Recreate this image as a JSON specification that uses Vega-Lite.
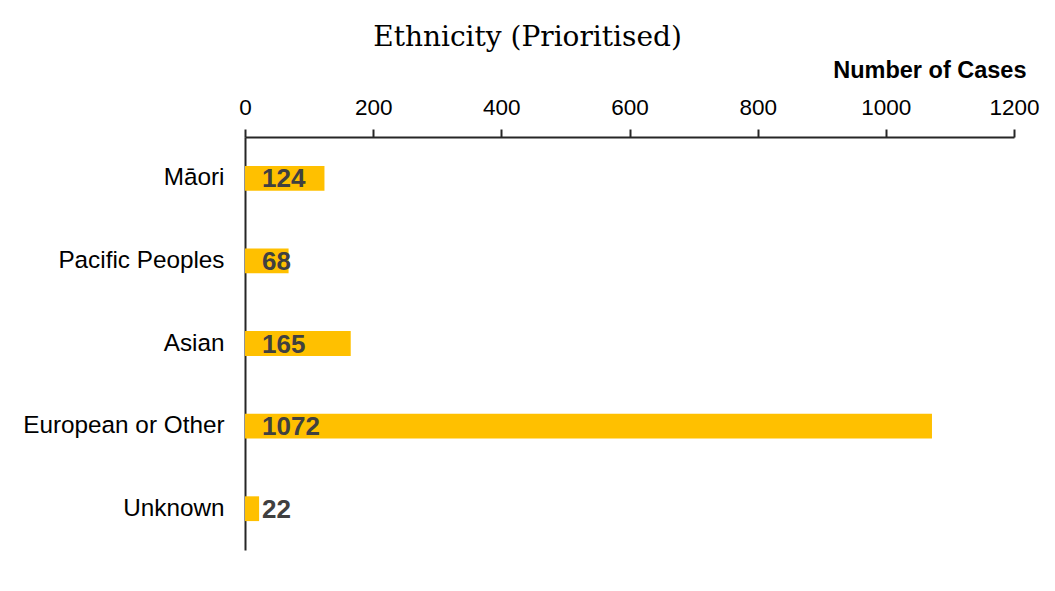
{
  "$schema": "https://vega.github.io/schema/vega-lite/v6.json",
  "width": 769,
  "height": 413,
  "autosize": {"type": "none"},
  "padding": {"left": 245, "top": 137, "right": 41, "bottom": 41},
  "background": "white",
  "title": {
    "text": "Ethnicity (Prioritised)",
    "font": "DejaVu Serif",
    "fontSize": 28,
    "fontWeight": "normal",
    "color": "#000000",
    "anchor": "middle",
    "dx": -102,
    "offset": 6
  },
  "config": {
    "view": {"stroke": null},
    "font": "Liberation Sans"
  },
  "data": {
    "values": [
      {"ethnicity": "Māori", "cases": 124},
      {"ethnicity": "Pacific Peoples", "cases": 68},
      {"ethnicity": "Asian", "cases": 165},
      {"ethnicity": "European or Other", "cases": 1072},
      {"ethnicity": "Unknown", "cases": 22}
    ]
  },
  "encoding": {
    "y": {
      "field": "ethnicity",
      "type": "nominal",
      "sort": null,
      "scale": {"paddingInner": 0.7, "paddingOuter": 0.35},
      "axis": {
        "title": null,
        "ticks": false,
        "labelPadding": 21,
        "labelFont": "Liberation Sans",
        "labelFontSize": 24.3,
        "labelColor": "#000000",
        "labelLimit": 300,
        "domainColor": "#262626",
        "domainWidth": 2
      }
    }
  },
  "layer": [
    {
      "mark": {"type": "bar", "color": "#FFC000"},
      "encoding": {
        "x": {
          "field": "cases",
          "type": "quantitative",
          "scale": {"domain": [0, 1200], "nice": false},
          "axis": {
            "orient": "top",
            "values": [0, 200, 400, 600, 800, 1000, 1200],
            "format": "d",
            "grid": false,
            "labelFlush": false,
            "labelOverlap": false,
            "title": "Number of Cases",
            "titleFont": "Liberation Sans",
            "titleFontSize": 23.5,
            "titleFontWeight": "bold",
            "titleColor": "#000000",
            "titleAnchor": "end",
            "titleAlign": "right",
            "titleBaseline": "middle",
            "titleX": 781,
            "titleY": -67,
            "labelFont": "Liberation Sans",
            "labelFontSize": 22.5,
            "labelColor": "#000000",
            "labelPadding": 10,
            "tickSize": 8,
            "tickColor": "#262626",
            "tickWidth": 2,
            "domainColor": "#262626",
            "domainWidth": 2
          }
        }
      }
    },
    {
      "mark": {
        "type": "text",
        "align": "left",
        "baseline": "middle",
        "dx": 17,
        "dy": 1,
        "font": "Liberation Sans",
        "fontSize": 26,
        "fontWeight": "bold",
        "color": "#404040"
      },
      "encoding": {
        "x": {"datum": 0, "type": "quantitative"},
        "text": {"field": "cases", "type": "quantitative"}
      }
    }
  ]
}
